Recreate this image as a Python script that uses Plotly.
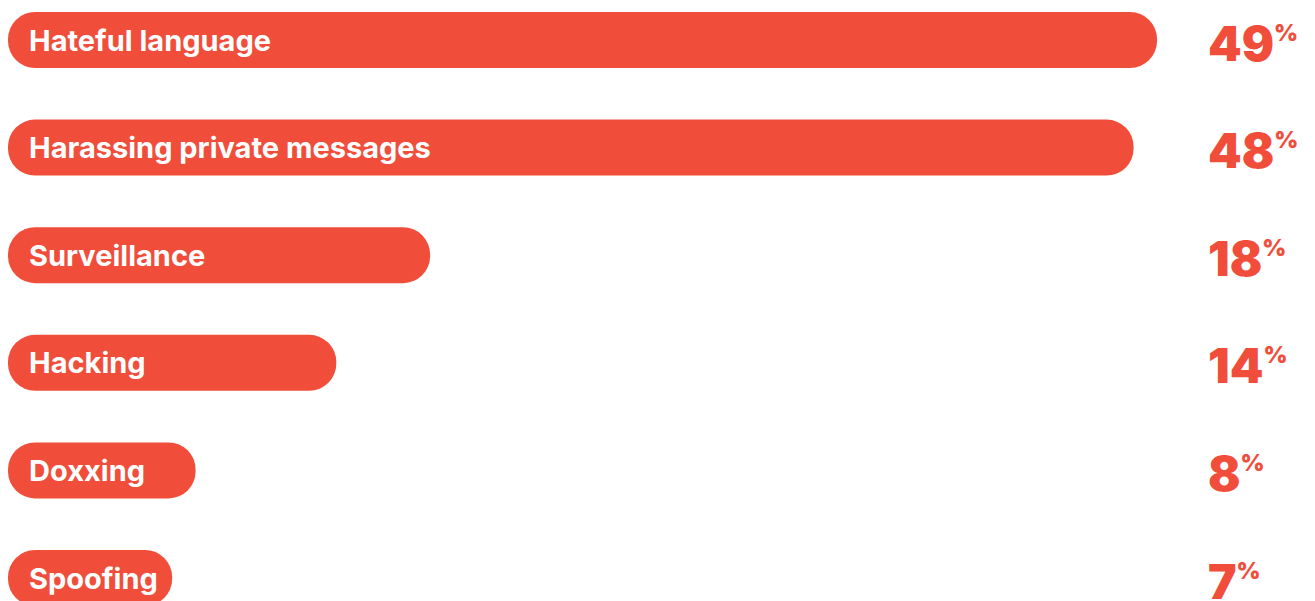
import plotly.graph_objects as go

categories = ["Hateful language", "Harassing private messages", "Surveillance",
              "Hacking", "Doxxing", "Spoofing"]
values = [49, 48, 18, 14, 8, 7]
value_labels = ["49", "48", "18", "14", "8", "7"]

RED = "#F04E3B"
W, H = 1315, 601
PX_PER_UNIT = 23.45  # horizontal scale
OFF = 8              # page body margin offset

fig = go.Figure()
fig.add_trace(go.Bar(
    x=values, base=[0] * len(values), y=categories, orientation="h",
    marker=dict(color=RED, cornerradius="50%", line=dict(width=0)),
    width=0.52, hoverinfo="skip",
))

for cat, lab in zip(categories, value_labels):
    fig.add_annotation(
        x=0, y=cat, xref="x", yref="y", text=cat, showarrow=False,
        xanchor="left", yanchor="middle", xshift=19, yshift=0,
        font=dict(family="Inter", size=29, color="white", weight=700),
    )
    fig.add_annotation(
        x=(1206 - OFF) / W, y=cat, xref="paper", yref="y",
        text=f'{lab}<sup><span style="font-size:23px">%</span></sup>',
        showarrow=False,
        xanchor="left", yanchor="middle", yshift=-3,
        font=dict(family="Inter", size=48, color=RED, weight=900),
    )

spacing = 107.6
r0 = -(40 - OFF) / spacing
r1 = r0 + H / spacing

fig.update_layout(
    width=W, height=H,
    margin=dict(l=0, r=0, t=0, b=0),
    paper_bgcolor="white", plot_bgcolor="white",
    showlegend=False,
    xaxis=dict(range=[0, W / PX_PER_UNIT], visible=False, fixedrange=True),
    yaxis=dict(type="category", categoryorder="array", categoryarray=categories,
               range=[r1, r0], visible=False, fixedrange=True),
)

fig.write_html("out.html")
